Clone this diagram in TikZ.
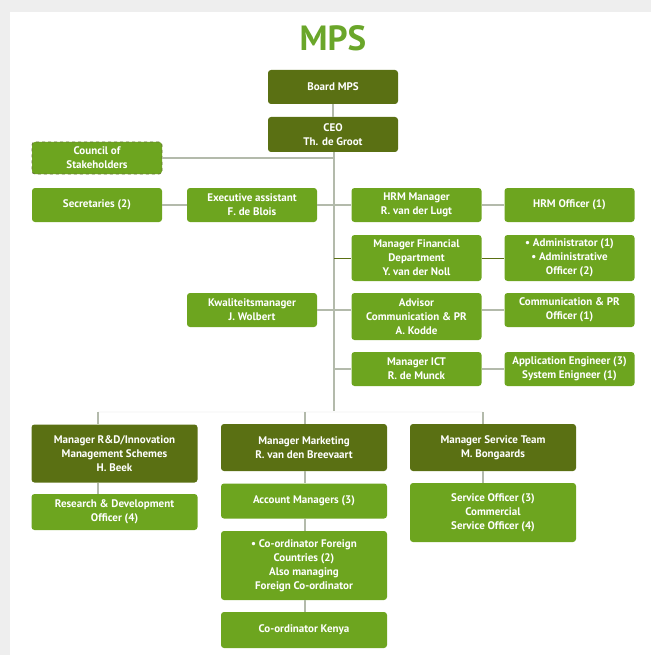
\documentclass[tikz,border=0pt]{standalone}
\usepackage{fontspec}
\setmainfont{PT Sans}
\definecolor{mpsdark}{HTML}{5A7013}
\definecolor{mpslight}{HTML}{6DA51F}
\definecolor{mpsline}{HTML}{B3BAAB}
\definecolor{mpstitle}{HTML}{6AA62A}
\definecolor{mpsshade}{HTML}{EEEEEE}
\begin{document}
\begin{tikzpicture}[x=1pt, y=-1pt,
    box/.style={rounded corners=3pt, fill=mpslight, text=white, align=center, inner sep=0pt,
        font=\fontsize{11}{14}\selectfont\bfseries, minimum width=130pt, minimum height=34pt},
    topbox/.style={box, fill=mpsdark},
    wide/.style={minimum width=166pt},
    link/.style={draw=mpsline, line width=1.6pt},
    darklink/.style={draw=mpsdark, line width=1pt},
    faint/.style={draw=black!2, line width=1.6pt}]
        \useasboundingbox (0,0) rectangle (651,655);
        %\draw [help lines, step=50] (0,0) grid (651,655);
        \fill [mpsshade] (0,0) rectangle (651,12);
        \fill [mpsshade] (0,0) rectangle (10,655);
        
        \node [font=\fontsize{35}{40}\selectfont\bfseries, text=mpstitle] (title) at (333,38) {MPS};
        
        % top of the chart
        \node [topbox] (board) at (333,87) {Board MPS};
        \node [topbox, minimum height=35pt] (ceo) at (333,134.5) {CEO\\Th. de Groot};
        \node [box, minimum height=32pt, draw=mpsdark!70!gray, dashed, line width=0.8pt] (council) at (97,158) {Council of\\Stakeholders};
        
        \node [box] (secr) at (97,205) {Secretaries (2)};
        \node [box] (exec) at (252,205) {Executive assistant\\F. de Blois};
        \node [box] (hrm) at (416.5,205) {HRM Manager\\R. van der Lugt};
        \node [box] (hrmoff) at (569.5,205) {HRM Officer (1)};
        
        \node [box, minimum height=46pt] (fin) at (416.5,258) {Manager Financial\\Department\\Y. van der Noll};
        \node [box, minimum height=46pt] (admin) at (569.5,258) {• Administrator (1)\\• Administrative\\Officer (2)};
        
        \node [box] (kwal) at (252,310) {Kwaliteitsmanager\\J. Wolbert};
        \node [box, minimum height=47pt] (advisor) at (416.5,316.5) {Advisor\\Communication \& PR\\A. Kodde};
        \node [box] (commoff) at (569.5,310) {Communication \& PR\\Officer (1)};
        
        \node [box] (ict) at (416.5,369) {Manager ICT\\R. de Munck};
        \node [box] (appeng) at (569.5,369) {Application Engineer (3)\\System Enigneer (1)};
        
        % bottom row
        \node [topbox, wide, minimum height=58pt] (rd) at (114.5,453.5) {Manager R\&D/Innovation\\Management Schemes\\H. Beek};
        \node [topbox, wide, minimum height=47pt] (mkt) at (304,447.5) {Manager Marketing\\R. van den Breevaart};
        \node [topbox, wide, minimum height=47pt] (serv) at (493,447.5) {Manager Service Team\\M. Bongaards};
        
        \node [box, wide, minimum height=36pt] (rdoff) at (114.5,512) {Research \& Development\\Officer (4)};
        \node [box, wide, minimum height=35pt] (acc) at (304,501) {Account Managers (3)};
        \node [box, wide, minimum height=69pt] (coord) at (304,565.5) {• Co-ordinator Foreign\\Countries (2)\\Also managing\\Foreign Co-ordinator};
        \node [box, wide, minimum height=36pt] (kenya) at (304,630) {Co-ordinator Kenya};
        \node [box, wide, minimum height=59pt] (servoff) at (493,512.5) {Service Officer (3)\\Commercial\\Service Officer (4)};
        
        \coordinate (spine) at (334,412);
        \coordinate (left) at (98,412);
        \coordinate (mid) at (305,412);
        \coordinate (right) at (483,412);
        
        % connectors
        \draw [link] (board) -- (ceo);
        \draw [link] (ceo.south -| spine) -- (spine);
        \draw [link] (council) -- (council -| spine);
        \draw [link] (secr) -- (exec);
        \draw [link] (exec) -- (hrm);
        \draw [link] (hrm) -- (hrmoff);
        \draw [darklink] (fin.west -| spine) -- (fin.west);
        \draw [darklink] (fin) -- (admin);
        \draw [link] (kwal) -- (advisor.west |- kwal);
        \draw [link] (advisor.east |- commoff) -- (commoff);
        \draw [link] (ict.west -| spine) -- (ict.west);
        \draw [link] (ict) -- (appeng);
        
        \draw [faint] (left) -- (right);
        \draw [link] (left) -- (left |- rd.north);
        \draw [link] (rd.south -| left) -- (rdoff.north -| left);
        \draw [link] (mid) -- (mid |- mkt.north);
        \draw [link] (mkt.south -| mid) -- (acc.north -| mid);
        \draw [link] (acc.south -| mid) -- (coord.north -| mid);
        \draw [link] (coord.south -| mid) -- (kenya.north -| mid);
        \draw [link] (right) -- (right |- serv.north);
        \draw [link] (serv.south -| right) -- (servoff.north -| right);
        
    \end{tikzpicture}
\end{document}
